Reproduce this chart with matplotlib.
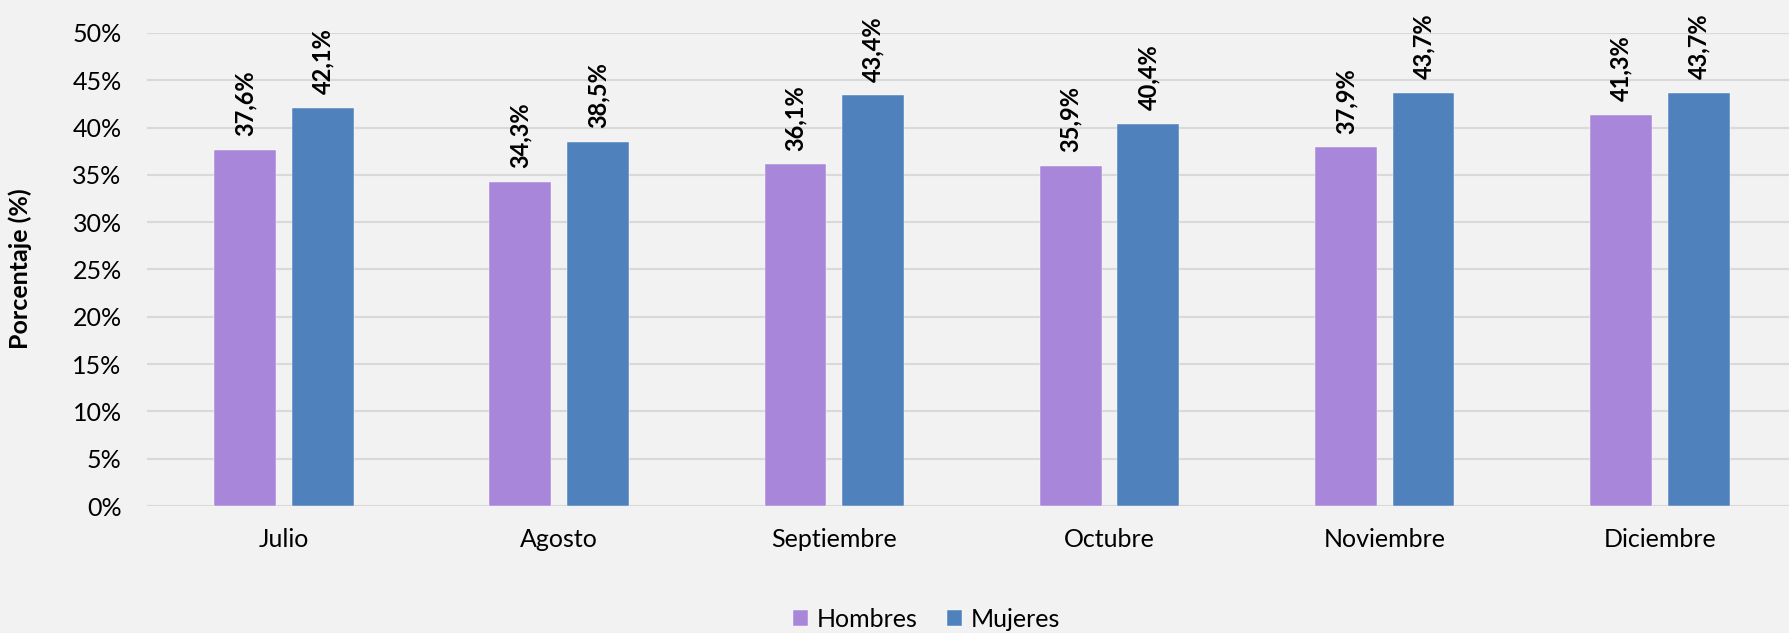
import matplotlib
matplotlib.use("Agg")
import matplotlib.pyplot as plt
import numpy as np

meses = ["Julio", "Agosto", "Septiembre", "Octubre", "Noviembre", "Diciembre"]
hombres = [37.6, 34.3, 36.1, 35.9, 37.9, 41.3]
mujeres = [42.1, 38.5, 43.4, 40.4, 43.7, 43.7]
series = ["Hombres", "Mujeres"]
yticks = [0, 5, 10, 15, 20, 25, 30, 35, 40, 45, 50]

plt.rcParams["font.family"] = ["Lato", "DejaVu Sans"]

fondo = "#F2F2F2"
colores = ["#A886D9", "#4F81BD"]

fig = plt.figure(figsize=(17.89, 6.33), dpi=100, facecolor=fondo)
ax = fig.add_axes([0.082, 0.2006, 0.918, 0.7473], facecolor=fondo)

x = np.arange(len(meses))
ancho = 0.225
desp = 0.1415

for i, (vals, nombre) in enumerate(zip([hombres, mujeres], series)):
    pos = x + (-desp if i == 0 else desp)
    barras = ax.bar(pos, vals, width=ancho, color=colores[i], label=nombre,
                    zorder=3, edgecolor="#FFFFFF", linewidth=0.3)
    for b, v in zip(barras, vals):
        ax.annotate(f"{v:.1f}%".replace(".", ","),
                    (b.get_x() + b.get_width() / 2, v),
                    xytext=(0, 10), textcoords="offset points",
                    rotation=90, ha="center", va="bottom",
                    fontsize=17, fontweight="bold", color="#000000",
                    annotation_clip=False)

ax.set_xlim(-0.5, 5.47)
ax.set_ylim(0, 50)
ax.set_yticks(yticks)
ax.set_yticklabels([f"{t}%" for t in yticks], fontsize=18, color="#000000")
ax.set_xticks(x)
ax.set_xticklabels(meses, fontsize=18, color="#000000")
ax.tick_params(axis="both", length=0)
ax.tick_params(axis="y", pad=18)
ax.tick_params(axis="x", pad=16)
ax.grid(axis="y", color="#D9D9D9", linewidth=1.5, zorder=0)
for s in ax.spines.values():
    s.set_visible(False)

fig.text(0.0115, 0.575, "Porcentaje (%)", rotation=90, ha="center", va="center",
         fontsize=18, fontweight="bold")

fig.legend(loc="center", bbox_to_anchor=(0.518, 0.022), ncol=2, frameon=False,
           fontsize=18, handlelength=0.6, handleheight=0.6, handletextpad=0.35,
           columnspacing=1.2)

fig.savefig("out.png", dpi=100, facecolor=fondo)
